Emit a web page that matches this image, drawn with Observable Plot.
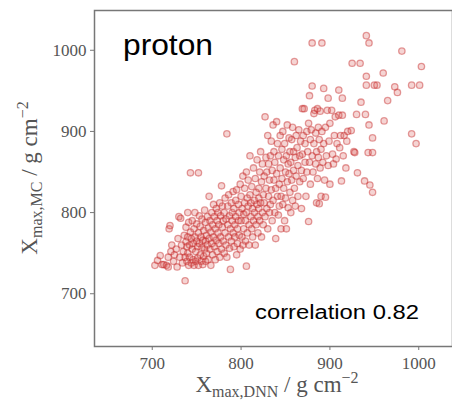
<!DOCTYPE html>
<html>
<head>
<meta charset="utf-8">
<script src="https://cdn.jsdelivr.net/npm/d3@7"></script>
<script src="https://cdn.jsdelivr.net/npm/@observablehq/plot@0.6"></script>
<style>
  html, body { margin: 0; padding: 0; background: #fff; }
</style>
</head>
<body>
<div id="chart"></div>
<script>
const title = "proton";
const note = "correlation 0.82";
const xTicks = [700, 800, 900, 1000];
const yTicks = [700, 800, 900, 1000];

// X_max,DNN values
const xDnn = [
703,706,709,711,713,716,718,718,719,720,721,722,724,725,727,728,729,730,731,732,733,734,735,736,737,737,738,738,739,739,740,740,740,741,741,
742,742,743,743,744,744,745,745,746,746,747,747,748,748,749,749,750,750,751,751,752,752,752,753,753,754,754,755,755,756,756,757,757,758,758,759,759,760,760,760,761,761,762,762,763,763,764,764,765,765,766,766,767,767,768,768,769,769,770,770,771,771,772,772,773,773,774,774,775,775,776,776,777,777,778,778,779,779,780,780,
781,781,782,782,783,783,784,784,785,785,786,786,787,787,788,788,789,789,790,790,791,791,792,792,793,793,794,794,795,795,796,796,797,797,798,798,799,799,800,800,801,801,802,802,803,803,804,804,805,805,806,806,806,807,807,808,808,809,809,810,810,811,811,812,812,813,813,814,814,815,815,816,816,817,817,818,818,819,819,820,820,820,
821,821,822,822,823,823,824,824,825,825,826,826,827,827,828,828,829,829,830,830,831,831,832,832,833,833,834,834,835,835,836,836,837,837,838,838,839,839,840,840,841,841,842,842,843,843,844,844,845,845,846,846,847,847,848,848,849,849,850,850,851,851,852,852,853,853,854,854,855,855,856,856,857,857,858,858,859,859,860,860,
861,861,862,862,863,864,864,865,866,866,867,868,868,869,869,870,870,871,872,872,873,874,874,875,876,876,877,877,878,878,879,880,880,880,881,882,882,883,884,884,885,885,886,886,887,887,888,888,889,889,890,890,891,891,892,893,893,894,895,895,896,897,898,898,899,900,900,
902,903,904,905,906,907,908,910,910,911,912,913,914,914,915,916,918,919,920,924,925,927,928,930,931,934,935,939,940,941,941,941,943,944,944,945,948,948,948,950,953,960,961,965,973,976,981,992,992,997,1001,1003
];

// X_max,MC values
const xMc = [
735,741,747,736,736,735,733,745,780,784,752,760,740,748,755,733,768,795,745,793,760,738,752,772,716,745,764,782,740,758,800,750,770,735,788,
760,745,776,849,738,768,755,790,742,762,780,735,770,800,752,740,765,786,744,758,849,775,735,796,762,748,783,740,770,757,792,736,766,778,746,803,755,765,740,788,772,750,760,795,781,742,768,820,755,790,735,776,762,800,748,785,770,810,758,795,780,742,766,805,790,752,775,800,762,785,745,812,770,796,755,833,782,808,765,790,
750,800,775,818,760,792,897,745,785,808,770,822,756,796,730,780,812,765,800,790,775,826,758,805,785,770,815,795,748,828,780,762,810,790,800,772,835,755,790,820,770,805,845,760,798,780,830,812,765,790,734,850,800,818,775,808,840,785,760,822,870,795,812,780,832,805,770,855,790,815,800,760,842,825,785,810,865,795,775,830,818,805,
790,850,812,875,770,838,800,860,822,785,845,812,918,795,868,830,805,850,780,895,820,860,840,800,870,810,888,828,790,852,908,815,875,840,800,862,768,830,912,848,820,885,797,870,835,808,895,855,780,820,878,842,810,900,865,830,790,885,850,818,780,870,908,838,860,806,892,848,825,875,800,862,890,840,815,905,852,875,830,986,
868,808,895,845,880,858,820,902,870,838,888,852,805,928,872,895,842,928,862,885,820,900,850,875,789,910,944,862,835,890,902,1009,956,870,850,922,885,926,860,898,812,875,928,842,905,868,811,890,855,925,820,878,1009,900,862,953,885,840,819,905,870,926,941,858,888,835,910,
926,872,860,895,918,866,885,951,920,880,895,839,941,920,870,895,855,888,900,901,984,875,874,921,849,984,936,839,921,1018,968,957,874,1009,908,834,892,874,825,957,957,972,913,938,955,948,999,957,897,885,957,980
];

const data = xDnn.map((x, i) => ({x, y: xMc[i]}));

const serif = "'Liberation Serif', 'Times New Roman', serif";
const sans = "'Liberation Sans', Arial, sans-serif";

const chart = Plot.plot({
  width: 452,
  height: 404,
  marginLeft: 94,
  marginRight: 0,
  marginTop: 10,
  marginBottom: 58,
  style: {fontFamily: serif, fontSize: "17px", color: "#555", background: "#fff"},
  x: {domain: [635, 1038], label: null},
  y: {domain: [635, 1049], label: null},
  marks: [
    Plot.dot(data, {x: "x", y: "y", r: 3.2, stroke: "#c62828", strokeOpacity: 0.45, strokeWidth: 1.3, fill: "#d9534f", fillOpacity: 0.25}),
    Plot.frame({stroke: "#777", strokeWidth: 1.5}),
    Plot.axisX({ticks: xTicks, tickFormat: "d", tickSize: 4, tickPadding: 6, label: null, stroke: "#777"}),
    Plot.axisY({ticks: yTicks, tickFormat: "d", tickSize: 4, tickPadding: 4, label: null, stroke: "#777"})
  ]
});

document.getElementById("chart").appendChild(chart);

const svg = d3.select(chart);

svg.append("text")
  .attr("x", 123).attr("y", 55)
  .attr("text-anchor", "start")
  .attr("font-family", sans).attr("font-size", 29).attr("fill", "#000")
  .attr("textLength", 90).attr("lengthAdjust", "spacingAndGlyphs")
  .text(title);

svg.append("text")
  .attr("x", 255).attr("y", 319)
  .attr("text-anchor", "start")
  .attr("font-family", sans).attr("font-size", 20).attr("fill", "#000")
  .attr("textLength", 164).attr("lengthAdjust", "spacingAndGlyphs")
  .text(note);

// x-axis label
const xl = svg.append("text")
  .attr("x", 277).attr("y", 392)
  .attr("text-anchor", "middle")
  .attr("font-family", serif).attr("font-size", 23).attr("fill", "#555");
xl.append("tspan").text("X");
xl.append("tspan").attr("font-size", 16).attr("dy", 5).text("max,DNN");
xl.append("tspan").attr("dy", -5).text(" / g cm");
xl.append("tspan").attr("font-size", 16).attr("dy", -9).text("−2");

// y-axis label
const yl = svg.append("text")
  .attr("transform", "translate(37,178) rotate(-90)")
  .attr("text-anchor", "middle")
  .attr("font-family", serif).attr("font-size", 23).attr("fill", "#555");
yl.append("tspan").text("X");
yl.append("tspan").attr("font-size", 16).attr("dy", 5).text("max,MC");
yl.append("tspan").attr("dy", -5).text(" / g cm");
yl.append("tspan").attr("font-size", 16).attr("dy", -9).text("−2");
</script>
</body>
</html>
